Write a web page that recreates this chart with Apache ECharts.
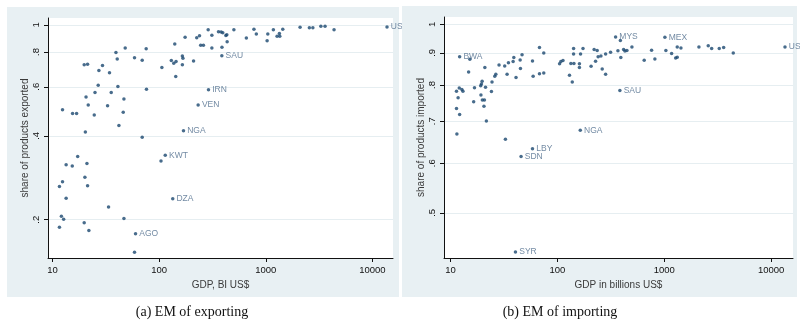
<!DOCTYPE html>
<html><head><meta charset="utf-8">
<script src="https://cdn.jsdelivr.net/npm/echarts@6/dist/echarts.min.js"></script>
<style>html,body{margin:0;padding:0;background:#fff}#c{width:800px;height:321px}</style>
</head><body><div id="c"></div>
<script>
// ---------- data: panel (a) EM of exporting ----------
const expGDP = [12.4,15.4,16.8,19.8,21.3,20.6,21.6,20.3,24.6,25.0,26.8,27.2,29.4,32.8,34.2,35.5,39.3,40.4,41.0,41.9,46.0,46.7,48.0,58.7,69.3,69.3,75.5,76.0,106,130,137,144,140,143,165,167,165,175,210,225,239,245,260,288,312,312,360,381,395,388,422,431,434,502,657,774,815,1029,1044,1178,1276,1353,1341,1443,2097,2562,2763,3284,3596,4367,104,17.2,13.4,15.3,21.0,20.1,21.3,12.4,11.6,13.4,33.5,12.1,12.7,46.7,19.8,11.6,21.9,58.7];
const expShare = [0.496,0.481,0.481,0.719,0.723,0.551,0.516,0.413,0.475,0.572,0.608,0.686,0.715,0.513,0.673,0.572,0.796,0.754,0.601,0.436,0.486,0.542,0.827,0.762,0.747,0.395,0.822,0.588,0.703,0.745,0.728,0.740,0.855,0.653,0.774,0.760,0.719,0.904,0.743,0.900,0.915,0.846,0.846,0.961,0.919,0.827,0.946,0.944,0.938,0.831,0.916,0.923,0.871,0.962,0.897,0.965,0.928,0.878,0.928,0.962,0.910,0.910,0.932,0.965,0.982,0.978,0.978,0.990,0.990,0.962,0.325,0.337,0.315,0.312,0.318,0.284,0.265,0.274,0.263,0.239,0.222,0.206,0.201,0.202,0.195,0.188,0.183,0.153];
const expLabelNames = ['SAU','IRN','VEN','NGA','KWT','DZA','AGO','USA'];
const expLabelGDP = [387,290,232,169,114,134,60.0,13710];
const expLabelShare = [0.776,0.585,0.516,0.417,0.341,0.238,0.178,0.984];

// ---------- data: panel (b) EM of importing ----------
const impGDP = [15.2,14.8,21.0,28.5,32.2,34.9,38.6,39.2,46.8,44.9,45.2,58.6,68.1,74.7,105,108,113,130,26.6,26.0,24.5,33.9,41.1,59.4,68.1,74.7,19.8,19.5,19.2,21.3,16.8,24.2,12.1,11.4,12.8,13.1,11.8,19.3,19.9,20.8,16.5,20.6,11.4,12.2,21.7,11.5,32.7,142,174,142,165,134,143,161,161,138,207,228,221,236,241,256,283,315,263,283,369,393,417,429,448,499,389,650,762,818,1037,1173,1324,1434,1279,1324,2113,2582,2779,3273,3599,4428];
const impShare = [0.879,0.839,0.853,0.861,0.858,0.868,0.872,0.885,0.894,0.877,0.850,0.874,0.918,0.900,0.865,0.872,0.875,0.829,0.832,0.826,0.809,0.832,0.822,0.826,0.834,0.836,0.811,0.803,0.798,0.793,0.792,0.781,0.791,0.782,0.787,0.782,0.763,0.771,0.757,0.757,0.752,0.740,0.734,0.718,0.701,0.668,0.655,0.915,0.915,0.896,0.896,0.866,0.866,0.865,0.853,0.809,0.857,0.873,0.911,0.908,0.887,0.890,0.896,0.902,0.848,0.832,0.907,0.885,0.911,0.906,0.908,0.920,0.942,0.876,0.909,0.880,0.908,0.898,0.920,0.916,0.883,0.886,0.920,0.924,0.915,0.915,0.918,0.900];
const impLabelNames = ['BWA','MYS','MEX','USA','SAU','NGA','LBY','SDN','SYR'];
const impLabelGDP = [12.2,351,1015,13490,385,164,58.6,45.8,40.6];
const impLabelShare = [0.887,0.954,0.953,0.920,0.784,0.677,0.633,0.615,0.433];

// ---------- axes: ticks and ranges ----------
const xTicks = [10,100,1000,10000];
const xTickLabels = ['10','100','1000','10000'];
const expYTicks = [0.2,0.4,0.6,0.8,1];
const expYTickLabels = ['.2','.4','.6','.8','1'];
const impYTicks = [0.5,0.6,0.7,0.8,0.9,1];
const impYTickLabels = ['.5','.6','.7','.8','.9','1'];
const expXRange = [9.06,15600];
const expYRange = [0.1458,1.059];
const impXRange = [8.71,16030];
const impYRange = [0.4235,1.027];

const L = Math.log10;
const NAVY = '#1a476f';
const LABEL = '#4f6d8c';
const PANEL = '#e8f0f3';
const GRIDLINE = '#e6eef1';

function pts(xs, ys){ return xs.map((x,i)=>[L(x), L(ys[i])]); }
function lpts(names, xs, ys){ return names.map((n,i)=>({name:n, value:[L(xs[i]), L(ys[i])]})); }
function fmt(ticks, labels){ return v => { for (let i=0;i<ticks.length;i++){ if (Math.abs(L(ticks[i])-v)<1e-6) return labels[i]; } return ''; }; }

function xAxis(gi, range, name, gap, z){
  const cv = xTicks.map(L);
  return {
    type:'value', gridIndex:gi, min:L(range[0]), max:L(range[1]), z:z,
    name:name, nameLocation:'middle', nameGap:gap,
    nameTextStyle:{fontFamily:'Liberation Sans', fontSize:10, color:'#3a3a3a'},
    axisLine:{show:true, onZero:false, lineStyle:{color:'#111', width:1}},
    axisTick:{show:true, length:4, lineStyle:{color:'#111'}, customValues:cv},
    axisLabel:{customValues:cv, formatter:fmt(xTicks,xTickLabels), margin:7, fontFamily:'Liberation Sans', fontSize:9.5, color:'#111'},
    splitLine:{show:false}
  };
}
function yAxis(gi, range, ticks, labels, name, z){
  const cv = ticks.map(L);
  return {
    type:'value', gridIndex:gi, min:L(range[0]), max:L(range[1]), z:z,
    name:name, nameLocation:'middle', nameGap:18,
    nameTextStyle:{fontFamily:'Liberation Sans', fontSize:10, color:'#3a3a3a'},
    axisLine:{show:true, onZero:false, lineStyle:{color:'#111', width:1}},
    axisTick:{show:true, length:4, lineStyle:{color:'#111'}, customValues:cv},
    axisLabel:{customValues:cv, formatter:fmt(ticks,labels), rotate:90, margin:7, fontFamily:'Liberation Sans', fontSize:9.5, color:'#111'},
    splitLine:{show:true, lineStyle:{color:GRIDLINE, width:1}}
  };
}
const labelStyle = {show:true, position:'right', distance:2, formatter:'{b}', fontFamily:'Liberation Sans', fontSize:8.5, color:LABEL};

const chart = echarts.init(document.getElementById('c'), null, {renderer:'canvas'});
chart.setOption({
  animation:false,
  backgroundColor:'#fff',
  graphic:[
    {type:'rect', z:-10, shape:{x:7, y:7, width:392, height:290}, style:{fill:PANEL}},
    {type:'rect', z:1.5, shape:{x:402, y:6, width:395, height:291}, style:{fill:PANEL}},
    {type:'text', z:5, style:{x:192, y:312, text:'(a) EM of exporting', font:'14px "Liberation Serif"', fill:'#111', textAlign:'center', textVerticalAlign:'middle'}},
    {type:'text', z:5, style:{x:560, y:312, text:'(b) EM of importing', font:'14px "Liberation Serif"', fill:'#111', textAlign:'center', textVerticalAlign:'middle'}}
  ],
  grid:[
    {left:48, top:18, width:345, height:240, show:true, backgroundColor:'#fff', borderWidth:0, z:0},
    {left:444, top:17, width:349, height:241, show:true, backgroundColor:'#fff', borderWidth:0, z:2}
  ],
  xAxis:[
    xAxis(0, expXRange, 'GDP, BI US$', 17, 0),
    xAxis(1, impXRange, 'GDP in billions US$', 15, 3)
  ],
  yAxis:[
    yAxis(0, expYRange, expYTicks, expYTickLabels, 'share of products exported', 0),
    yAxis(1, impYRange, impYTicks, impYTickLabels, 'share of products imported', 3)
  ],
  series:[
    {type:'scatter', xAxisIndex:0, yAxisIndex:0, z:1, symbolSize:3.5, itemStyle:{color:NAVY}, data:pts(expGDP, expShare)},
    {type:'scatter', xAxisIndex:0, yAxisIndex:0, z:1, symbolSize:3.5, itemStyle:{color:NAVY}, label:labelStyle, data:lpts(expLabelNames, expLabelGDP, expLabelShare)},
    {type:'scatter', xAxisIndex:1, yAxisIndex:1, z:4, symbolSize:3.5, itemStyle:{color:NAVY}, data:pts(impGDP, impShare)},
    {type:'scatter', xAxisIndex:1, yAxisIndex:1, z:4, symbolSize:3.5, itemStyle:{color:NAVY}, label:labelStyle, data:lpts(impLabelNames, impLabelGDP, impLabelShare)}
  ]
});
</script></body></html>
